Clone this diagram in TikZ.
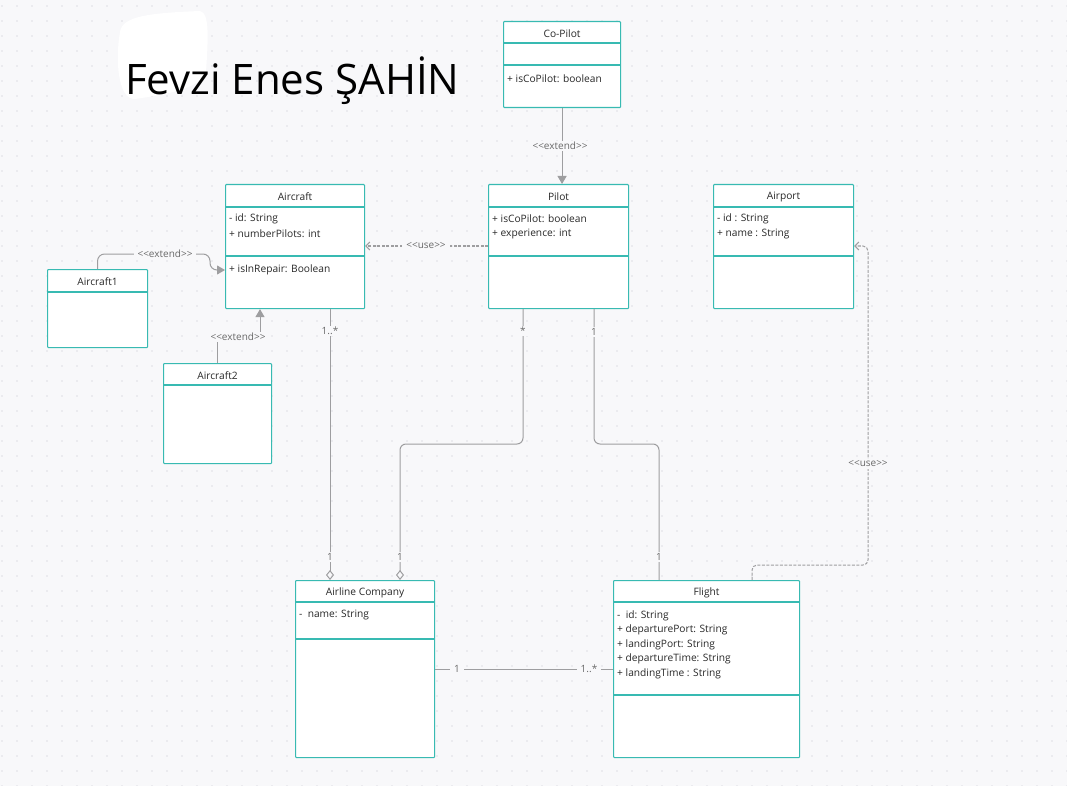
\documentclass[tikz,border=0pt]{standalone}
\usepackage{fontspec}
\setmainfont{Open Sans}
\usetikzlibrary{calc}
\usetikzlibrary{arrows.meta}
\definecolor{umlteal}{RGB}{56,186,178}
\definecolor{linegray}{RGB}{158,158,160}
\definecolor{bggray}{RGB}{248,248,250}
\definecolor{dotgray}{RGB}{222,222,228}
\definecolor{txtdark}{RGB}{40,40,40}
\definecolor{lbltxt}{RGB}{105,105,105}
\newcommand{\classbox}[5]{\node[umlclass, minimum width=#4pt, minimum height=#5pt] (#1) at (#2,#3) {};}
\newcommand{\sepline}[2]{\draw[umlteal, line width=1.1pt] ($(#1.north west)+(0,#2)$) -- ($(#1.north east)+(0,#2)$);}
\newcommand{\classname}[2]{\node[headtxt] (#1-name) at ($(#1.north)+(0,13)$) {#2};}
\newcommand{\attr}[4]{\node[attrtxt] (#1) at ($(#2.north west)+(4,#3)+(0,1.5)$) {#4};}
\newcommand{\stereo}[1]{<\kern0pt<#1>\kern0pt>}
\tikzset{
    umlclass/.style={draw=umlteal, fill=white, line width=1.1pt, anchor=north west, inner sep=0pt, rounded corners=0.8pt},
    headtxt/.style={inner sep=0pt, font=\fontsize{10.2}{12}\selectfont, text=txtdark},
    attrtxt/.style={anchor=west, inner sep=0pt, font=\fontsize{10.2}{12}\selectfont, text=txtdark},
    lbl/.style={fill=bggray, inner ysep=1.5pt, inner xsep=4pt, font=\fontsize{10}{12}\selectfont, text=lbltxt},
    conn/.style={draw=linegray, line width=1pt},
    extendarrow/.style={conn, -{Triangle[length=8pt,width=9pt]}},
    usearrow/.style={conn, dash pattern=on 3pt off 1.5pt, -{Straight Barb[length=4pt,width=8pt]}},
    aggr/.style={conn, -{Diamond[open, length=10pt, width=8pt]}}
}

\begin{document}
\begin{tikzpicture}[x=1pt, y=-1pt]
    % background with dots
    \fill[bggray] (0,0) rectangle (1067,786);
    \useasboundingbox (0,0) rectangle (1067,786);
    \foreach \i in {0,...,71}
        \foreach \j in {0,...,52}
            \fill[dotgray] (2+15*\i, 6+15*\j) circle (0.9);
    % title
    \fill[white] (120,32) .. controls (122,16) and (150,13) .. (200,11)
        .. controls (210,13) and (208,40) .. (206,72)
        .. controls (200,88) and (170,94) .. (135,99)
        .. controls (118,100) and (115,60) .. (120,32) -- cycle;
    \node[anchor=base west, inner sep=0pt, font=\fontsize{42}{50}\selectfont, text=black] (title) at (125,95) {Fevzi Enes ŞAHİN};

    % Co-Pilot
    \classbox{copilot}{503}{21}{117}{86}
    \sepline{copilot}{22}
    \sepline{copilot}{44}
    \classname{copilot}{Co-Pilot}
    \attr{copilot-a1}{copilot}{56}{+ isCoPilot: boolean}
    % Pilot
    \classbox{pilot}{488}{184}{140}{124}
    \sepline{pilot}{23}
    \sepline{pilot}{72}
    \classname{pilot}{Pilot}
    \attr{pilot-a1}{pilot}{33}{+ isCoPilot: boolean}
    \attr{pilot-a2}{pilot}{48}{+ experience: int}
    % Aircraft
    \classbox{aircraft}{225}{184}{139}{124}
    \sepline{aircraft}{23}
    \sepline{aircraft}{72}
    \classname{aircraft}{Aircraft}
    \attr{aircraft-a1}{aircraft}{33}{- id: String}
    \attr{aircraft-a2}{aircraft}{48}{+ numberPilots: int}
    \attr{aircraft-m1}{aircraft}{84}{+ isInRepair: Boolean}
    % Airport
    \classbox{airport}{713}{184}{140}{124}
    \sepline{airport}{23}
    \sepline{airport}{72}
    \classname{airport}{Airport}
    \attr{airport-a1}{airport}{33}{- id : String}
    \attr{airport-a2}{airport}{48}{+ name : String}
    % Aircraft1
    \classbox{aircraft1}{47}{269}{100}{78}
    \sepline{aircraft1}{23}
    \classname{aircraft1}{Aircraft1}
    % Aircraft2
    \classbox{aircraft2}{163}{363}{108}{100}
    \sepline{aircraft2}{22}
    \classname{aircraft2}{Aircraft2}
    % Airline Company
    \classbox{airline}{295}{580}{139}{177}
    \sepline{airline}{22}
    \sepline{airline}{59}
    \classname{airline}{Airline Company}
    \attr{airline-a1}{airline}{33}{-\ \ name: String}
    % Flight
    \classbox{flight}{613}{580}{186}{177}
    \sepline{flight}{22}
    \sepline{flight}{115}
    \classname{flight}{Flight}
    \attr{flight-a1}{flight}{34}{-\ \ id: String}
    \attr{flight-a2}{flight}{48.5}{+ departurePort: String}
    \attr{flight-a3}{flight}{63}{+ landingPort: String}
    \attr{flight-a4}{flight}{77.5}{+ departureTime: String}
    \attr{flight-a5}{flight}{92}{+ landingTime : String}

    % bend points
    \coordinate (ac-x) at (330,0);
    \coordinate (a1-turn) at (210,254);
    \coordinate (a2-turn) at (260,337);
    \coordinate (pa-turn) at (523,444);
    \coordinate (pf-turn) at (594,444);
    \coordinate (fl-up) at (752,565);
    \coordinate (ap-r) at (868,246);

    % extend
    \draw[extendarrow] (copilot.south) -- (copilot.south |- pilot.north);
    \draw[extendarrow, rounded corners=7] (aircraft1.north) |- (a1-turn) |- ($(aircraft.north west)+(0,86)$);
    \draw[extendarrow] (aircraft2.north) |- (a2-turn) -- (a2-turn |- aircraft.south);
    % use
    \draw[usearrow] ($(pilot.north west)+(0,62)$) -- ($(aircraft.north east)+(0,62)$);
    \draw[usearrow, rounded corners=5] (flight.north -| fl-up) -- (fl-up) -- (fl-up -| ap-r) -- (ap-r) -- (airport.east |- ap-r);
    % associations
    \draw[aggr] (aircraft.south -| ac-x) -- (airline.north -| ac-x);
    \draw[aggr, rounded corners=6] (pilot.south -| pa-turn) -- (pa-turn) -| ($(airline.north west)+(105,0)$);
    \draw[conn, rounded corners=6] (pilot.south -| pf-turn) -- (pf-turn) -| ($(flight.north west)+(46,0)$);
    \draw[conn] ($(airline.north east)+(0,89)$) -- ($(flight.north west)+(0,89)$);

    % labels
    \node[lbl] (l-copilot) at (560,146) {\stereo{extend}};
    \node[lbl] (l-aircraft1) at (165,254) {\stereo{extend}};
    \node[lbl] (l-aircraft2) at (238,337) {\stereo{extend}};
    \node[lbl] (l-pilotuse) at (426,246) {\stereo{use}};
    \node[lbl] (l-flightuse) at (868,464) {\stereo{use}};
    \node[lbl] (m-ac-top) at (330,331) {1..*};
    \node[lbl] (m-pa-top) at (523,331) {*};
    \node[lbl] (m-pf-top) at (594,332) {1};
    \node[lbl] (m-ac-bot) at (330,557) {1};
    \node[lbl] (m-pa-bot) at (400,557) {1};
    \node[lbl] (m-pf-bot) at (659,557) {1};
    \node[lbl] (m-af-left) at (457,669) {1};
    \node[lbl] (m-af-right) at (589,669) {1..*};
\end{tikzpicture}
\end{document}
